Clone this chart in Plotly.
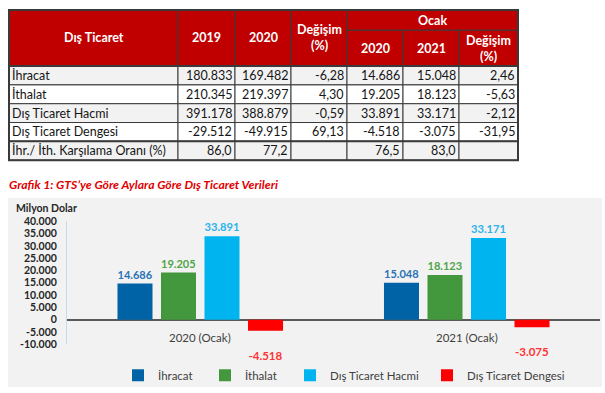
import plotly.graph_objects as go

W, H = 605, 393

# ---------------- data ----------------
row_labels = ["İhracat", "İthalat", "Dış Ticaret Hacmi", "Dış Ticaret Dengesi",
              "İhr./ İth. Karşılama Oranı (%)"]
annual_2019 = [180833, 210345, 391178, -29512, 86.0]
annual_2020 = [169482, 219397, 388879, -49915, 77.2]
annual_change = [-6.28, 4.30, -0.59, 69.13, None]
jan_2020 = [14686, 19205, 33891, -4518, 76.5]
jan_2021 = [15048, 18123, 33171, -3075, 83.0]
jan_change = [2.46, -5.63, -2.12, -31.95, None]
header_labels = ["Dış Ticaret", "2019", "2020", "Değişim<br>(%)", "Ocak", "2020", "2021", "Değişim<br>(%)"]

categories = ["2020 (Ocak)", "2021 (Ocak)"]
series_names = ["İhracat", "İthalat", "Dış Ticaret Hacmi", "Dış Ticaret Dengesi"]
ihracat = [14686, 15048]
ithalat = [19205, 18123]
hacim = [33891, 33171]
denge = [-4518, -3075]

y_tickvals = [-10000, -5000, 0, 5000, 10000, 15000, 20000, 25000, 30000, 35000, 40000]
y_ticktext = ["-10.000", "-5.000", "0", "5.000", "10.000", "15.000", "20.000",
              "25.000", "30.000", "35.000", "40.000"]

title_text = "Grafik 1: GTS’ye Göre Aylara Göre Dış Ticaret Verileri"
unit_text = "Milyon Dolar"

# ---------------- helpers ----------------
def px_x(p):
    return p / W

def px_y(p):
    return 1 - p / H

def fmt_int(v):
    s = f"{abs(int(v)):,}".replace(",", ".")
    return "-" + s if v < 0 else s

def fmt_dec(v, n):
    if v is None:
        return ""
    return f"{v:.{n}f}".replace(".", ",")

def fmt_col(vals):
    out = [fmt_int(v) for v in vals[:4]]
    out.append(fmt_dec(vals[4], 1))
    return out

def fmt_pct(vals):
    return [fmt_dec(v, 2) for v in vals]

def bar_label(v):
    # negative labels sit a line lower (below the bar), as in the original
    return ("\u00a0<br>" + fmt_int(v)) if v < 0 else fmt_int(v)

FONT = "Lato"
RED_HDR = "#c00000"
LINE = "#3a3a3a"
TXT = "#151515"

fig = go.Figure()

# chart background panel
fig.add_shape(type="rect", xref="paper", yref="paper",
              x0=px_x(8), x1=px_x(602), y0=px_y(393), y1=px_y(198),
              fillcolor="#f2f2f2", line=dict(width=0), layer="below")

# ---------------- table (own axes x2/y2, 1 unit = 1 px) ----------------
col_w = [169, 57, 56, 56, 56, 56, 59]
col_edges = [0]
for w_ in col_w:
    col_edges.append(col_edges[-1] + w_)
hdr_edges = [0, 21, 58]
body_h = 19.4
n_rows = len(row_labels)
row_edges = [hdr_edges[-1] + i * body_h for i in range(n_rows + 1)]
tbl_w = col_edges[-1]
tbl_h = row_edges[-1]
TX0, TY0, PAD = 9, 4, 3   # table top-left in px, and clip padding

# header spans: (col start, col end, hdr row start, hdr row end)
header_spans = [(0, 1, 0, 2), (1, 2, 0, 2), (2, 3, 0, 2), (3, 4, 0, 2),
                (4, 7, 0, 1), (4, 5, 1, 2), (5, 6, 1, 2), (6, 7, 1, 2)]
for (c0, c1, r0, r1), lab in zip(header_spans, header_labels):
    fig.add_shape(type="rect", xref="x2", yref="y2",
                  x0=col_edges[c0], x1=col_edges[c1], y0=hdr_edges[r0], y1=hdr_edges[r1],
                  fillcolor=RED_HDR, line=dict(color=LINE, width=1))
    fig.add_annotation(xref="x2", yref="y2", x=(col_edges[c0] + col_edges[c1]) / 2,
                       y=(hdr_edges[r0] + hdr_edges[r1]) / 2, text=lab, showarrow=False,
                       xanchor="center", yanchor="middle",
                       font=dict(family=FONT, size=12.5, color="white", weight="bold"))

tbl_cols = [row_labels, fmt_col(annual_2019), fmt_col(annual_2020), fmt_pct(annual_change),
            fmt_col(jan_2020), fmt_col(jan_2021), fmt_pct(jan_change)]
row_fill = ["#f2f2f2", "#ffffff"]
for ci, col_vals in enumerate(tbl_cols):
    for ri, val in enumerate(col_vals):
        fig.add_shape(type="rect", xref="x2", yref="y2",
                      x0=col_edges[ci], x1=col_edges[ci + 1],
                      y0=row_edges[ri], y1=row_edges[ri + 1],
                      fillcolor=row_fill[ri % 2], line=dict(color=LINE, width=1))
        if val == "":
            continue
        if ci == 0:
            fig.add_annotation(xref="x2", yref="y2", x=col_edges[ci], xshift=1,
                               y=(row_edges[ri] + row_edges[ri + 1]) / 2,
                               text=val, showarrow=False, xanchor="left", yanchor="middle",
                               font=dict(family=FONT, size=12.5, color=TXT))
        else:
            fig.add_annotation(xref="x2", yref="y2", x=col_edges[ci + 1], xshift=-1,
                               y=(row_edges[ri] + row_edges[ri + 1]) / 2,
                               text=val, showarrow=False, xanchor="right", yanchor="middle",
                               font=dict(family=FONT, size=12.5, color=TXT))

# thicker outer border and header/body separators
fig.add_shape(type="rect", xref="x2", yref="y2", x0=0, x1=tbl_w, y0=0, y1=tbl_h,
              line=dict(color=LINE, width=2), fillcolor="rgba(0,0,0,0)")
for yy in (row_edges[0], row_edges[-2]):
    fig.add_shape(type="line", xref="x2", yref="y2", x0=0, x1=tbl_w, y0=yy, y1=yy,
                  line=dict(color=LINE, width=2))

# ---------------- bar chart ----------------
bar_colors = ["#0063a6", "#43983d", "#00b4ef", "#ff0000"]
label_colors = ["#2a72b5", "#4ea547", "#2bb3ec", "#ff3333"]
series_vals = [ihracat, ithalat, hacim, denge]
legend_ids = ["legend", "legend2", "legend3", "legend4"]
legend_sq_left = [133, 220, 305, 442]

for name, vals, col, lcol, lid in zip(series_names, series_vals, bar_colors, label_colors, legend_ids):
    fig.add_trace(go.Bar(
        x=categories, y=vals, name=name, legend=lid,
        marker=dict(color=col, line=dict(width=0)),
        text=[bar_label(v) for v in vals], textposition="outside",
        textfont=dict(family=FONT, size=11.5, color=lcol, weight="bold"),
        cliponaxis=False, hoverinfo="skip",
    ))

for c in categories:
    fig.add_annotation(x=c, y=0, xref="x", yref="y", yshift=-18,
                       text=c, showarrow=False,
                       font=dict(family=FONT, size=11.5, color="#404040"))

fig.add_annotation(x=px_x(7), y=px_y(184), xref="paper", yref="paper",
                   xanchor="left", yanchor="middle", text=title_text, showarrow=False,
                   font=dict(family=FONT, size=12.2, color="#e00000", weight="bold", style="italic"))
fig.add_annotation(x=px_x(14), y=px_y(208), xref="paper", yref="paper",
                   xanchor="left", yanchor="middle", text=unit_text, showarrow=False,
                   font=dict(family=FONT, size=10.5, color="#262626", weight="bold"))

legend_common = dict(orientation="h", yanchor="middle", y=px_y(381), xanchor="left",
                     font=dict(family=FONT, size=11.5, color="#404040"),
                     bgcolor="rgba(0,0,0,0)", borderwidth=0)
legends = {}
for lid, sq in zip(legend_ids, legend_sq_left):
    legends[lid] = dict(legend_common, x=px_x(sq - 15))

fig.update_layout(
    width=W, height=H,
    margin=dict(l=0, r=0, t=0, b=0),
    paper_bgcolor="white", plot_bgcolor="rgba(0,0,0,0)",
    barmode="group", bargap=0.347, bargroupgap=0.195,
    showlegend=True,
    xaxis=dict(domain=[px_x(67), px_x(600)], showticklabels=False, showgrid=False,
               showline=False, zeroline=False, fixedrange=True),
    yaxis=dict(domain=[px_y(349), px_y(222)], range=[-10000, 40000],
               tickvals=y_tickvals, ticktext=y_ticktext, showgrid=False,
               showline=True, linecolor="#c5d9f1", linewidth=1,
               zeroline=True, zerolinecolor="#595959", zerolinewidth=2,
               ticks="", ticklabelstandoff=7,
               tickfont=dict(family=FONT, size=10.5, color="#262626", weight="bold"),
               fixedrange=True),
    xaxis2=dict(domain=[px_x(TX0 - PAD), px_x(TX0 + tbl_w + PAD)], range=[-PAD, tbl_w + PAD],
                visible=False, fixedrange=True, anchor="y2"),
    yaxis2=dict(domain=[px_y(TY0 + tbl_h + PAD), px_y(TY0 - PAD)], range=[tbl_h + PAD, -PAD],
                visible=False, fixedrange=True, anchor="x2"),
    **legends,
)

fig.write_html("out.html", config={"displayModeBar": False},
               post_script="document.body.style.margin='0';")
